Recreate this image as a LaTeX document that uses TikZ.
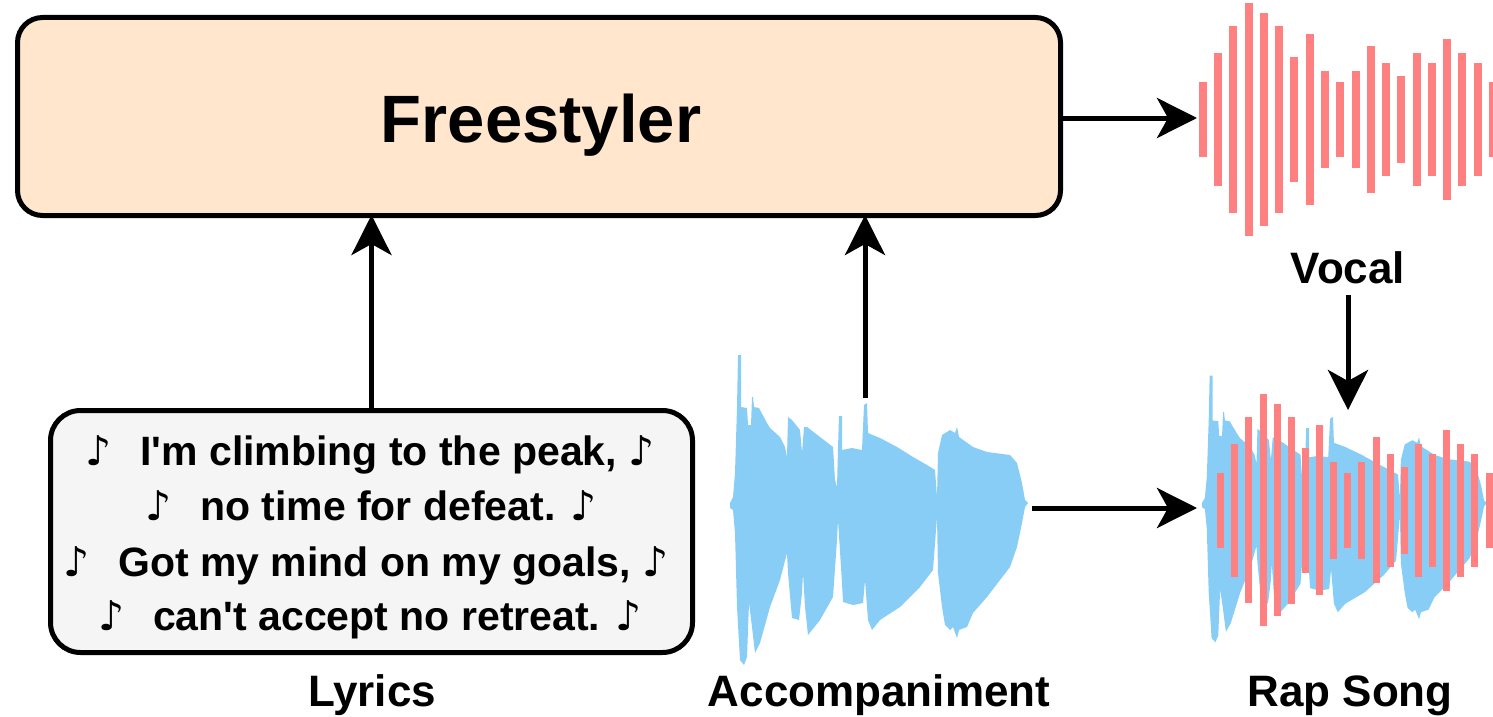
\documentclass[tikz,border=0pt]{standalone}
\usepackage{fontspec}
\setmainfont{Liberation Sans}
\newfontfamily\symfont{DejaVu Sans}
\usetikzlibrary{arrows.meta}
\definecolor{peach}{HTML}{FFE6CC}
\definecolor{lgray}{HTML}{F5F5F5}
\definecolor{wblue}{HTML}{88CDF6}
\definecolor{wred}{HTML}{FF8080}
\newcommand\mnote{{\symfont\bfseries ♪}}
\newcommand\ap{\textquotesingle}
\tikzset{
  box/.style={draw=black, line width=5pt, inner sep=0pt},
  arr/.style={line width=5pt, -{Stealth[length=40pt,width=40pt,inset=11pt]}},
  lbl/.style={font=\fontsize{44}{50}\selectfont\bfseries, anchor=base, inner sep=0pt},
  lyr/.style={font=\fontsize{41}{50}\selectfont\bfseries, anchor=base, inner sep=0pt},
  title/.style={font=\fontsize{67}{75}\selectfont\bfseries, anchor=base, inner sep=0pt},
}
\begin{document}
\begin{tikzpicture}[x=1pt, y=-1pt]
\useasboundingbox (0,0) rectangle (1493,717);

% main boxes
\node[box, fill=peach, rounded corners=25pt, minimum width=1043pt, minimum height=198pt] (freestyler) at (539,116.5) {};
\node[title] (ftext) at (541,142) {Freestyler};

\node[box, fill=lgray, rounded corners=30pt, minimum width=642pt, minimum height=242pt] (lyrics) at (371.5,531.5) {};
\node[lyr] (l1) at (370,465) {\mnote\hspace{0.7em}I\ap m climbing to the peak, \mnote};
\node[lyr] (l2) at (371,520) {\mnote\hspace{0.7em}no time for defeat. \mnote};
\node[lyr] (l3) at (366,576) {\mnote\hspace{0.7em}Got my mind on my goals, \mnote};
\node[lyr] (l4) at (370,630) {\mnote\hspace{0.7em}can\ap t accept no retreat. \mnote};

% vocal waveform
\foreach \h [count=\i from 0] in {37.5,66.5,93,116,106,93.5,62.5,85,48.5,37.5,48.5,73,56.5,43.5,66.5,56.5,80.5,66.5,56.5,37.5}
  \fill[wred] ({1202.7+15.28*\i-4}, {119.5-\h}) rectangle ++(8, {2*\h});

% accompaniment waveform
\def\wave{(730,503) -- (733,497) -- (735,473) -- (737,407) -- (738,355) -- (741,355) -- (741,407) -- (747,408) -- (748,425) -- (751,425) -- (752,397) -- (753,397) -- (754,407) -- (759,408) -- (767,423) -- (770,428) -- (780,437) -- (785,447) -- (787,457) -- (788,417) -- (792,420) -- (800,430) -- (802,453) -- (804,427) -- (807,427) -- (820,437) -- (833,447) -- (835,480) -- (837,487) -- (838,448) -- (839,416) -- (842,416) -- (842,450) -- (852,448) -- (862,450) -- (864,405) -- (867,403) -- (868,433) -- (880,438) -- (897,447) -- (913,457) -- (927,465) -- (935,470) -- (937,497) -- (938,453) -- (942,435) -- (950,430) -- (955,433) -- (957,427) -- (959,437) -- (973,447) -- (987,452) -- (1010,455) -- (1017,463) -- (1022,483) -- (1025,500) -- (1028,503) -- (1025,507) -- (1022,523) -- (1017,547) -- (1010,567) -- (1000,580) -- (987,597) -- (973,613) -- (967,627) -- (959,630) -- (957,638) -- (953,627) -- (950,630) -- (945,625) -- (942,607) -- (938,573) -- (937,517) -- (933,570) -- (920,587) -- (900,607) -- (880,620) -- (872,630) -- (868,620) -- (865,580) -- (863,603) -- (853,605) -- (843,602) -- (842,583) -- (838,520) -- (837,540) -- (833,597) -- (820,620) -- (808,635) -- (805,607) -- (803,573) -- (802,593) -- (799,620) -- (792,618) -- (788,573) -- (787,553) -- (780,580) -- (770,607) -- (760,643) -- (755,653) -- (752,627) -- (749,603) -- (747,657) -- (744,665) -- (740,660) -- (737,607) -- (735,533) -- (733,510) -- (730,508) -- cycle}
\fill[wblue] \wave;

% rap song: scaled accompaniment + vocal bars
\begin{scope}[shift={(1202,509)}, xscale=0.956, yscale=0.86, shift={(-730,-510)}]
  \fill[wblue] \wave;
\end{scope}
\foreach \h [count=\i from 0] in {37.5,66.5,93,116,106,93.5,62.5,85,48.5,37.5,48.5,73,56.5,43.5,66.5,56.5,80.5,66.5,56.5,37.5}
  \fill[wred] ({1220.7+14.12*\i-3.5}, {510-\h}) rectangle ++(7, {2*\h});

% labels
\node[lbl] (vocal) at (1348,283) {Vocal};
\node[lbl] (lyrlbl) at (372,706) {Lyrics};
\node[lbl] (acclbl) at (879,706) {Accompaniment};
\node[lbl] (raplbl) at (1350,706) {Rap Song};

% connector endpoints
\coordinate (accTop) at (865,398);
\coordinate (accRight) at (1032,508);
\coordinate (rapLeft) at (1197,508);
\coordinate (vocLeft) at (1197,118);
\coordinate (rapTop) at (1348,410);

% connectors
\draw[arr] (freestyler.east |- vocLeft) -- (vocLeft);
\draw[arr, shorten >=-3pt] (lyrics.north) -- (lyrics.north |- freestyler.south);
\draw[arr, shorten >=-3pt] (accTop) -- (accTop |- freestyler.south);
\draw[arr, shorten <=12pt] (vocal.base) -- (rapTop);
\draw[arr] (accRight) -- (rapLeft);
\end{tikzpicture}
\end{document}
